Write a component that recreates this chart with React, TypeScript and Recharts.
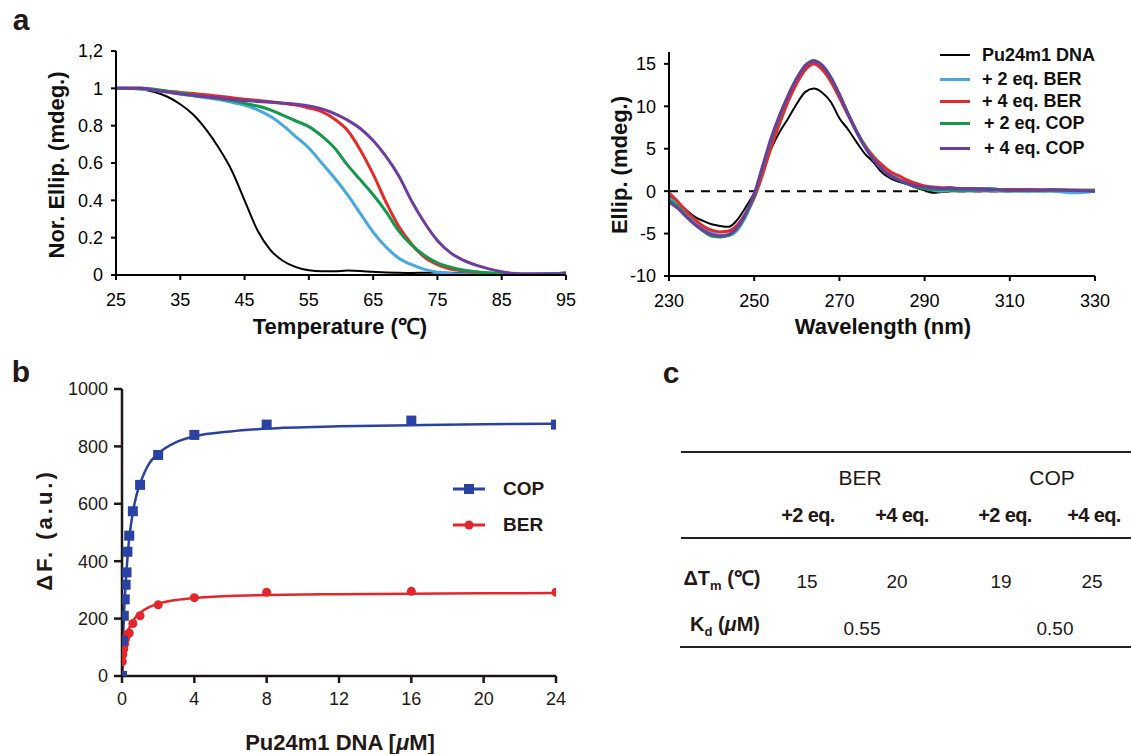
// App.tsx
// Three-panel figure: a) CD melting + CD spectra, b) fluorescence titration, c) summary table.
import React from "react";
import {
  LineChart, Line, ComposedChart, Scatter, XAxis, YAxis, ReferenceLine,
} from "recharts";

const FONT = "Arial, 'Liberation Sans', Helvetica, sans-serif";

// series colours
const C_BLACK = "#000000";
const C_BLUE = "#45a8de";
const C_RED = "#e32b2b";
const C_GREEN = "#14984a";
const C_PURPLE = "#6e3c9e";
const C_COP = "#2a43a3";
const C_BER = "#e3262b";
const C_AXIS_B = "#1e1614";

// ---- a (left): melting curves ----
const meltTemp = [25, 27, 29, 31, 33, 35, 37, 39, 41, 43, 45, 47, 49, 51, 53, 55, 57, 59, 61, 63, 65, 67, 69, 71, 73, 75, 77, 79, 81, 83, 85, 87, 89, 91, 93, 95];
const meltDNA = [1, 1, 0.995, 0.98, 0.955, 0.915, 0.86, 0.78, 0.68, 0.56, 0.4, 0.24, 0.135, 0.075, 0.042, 0.025, 0.02, 0.02, 0.024, 0.022, 0.017, 0.014, 0.012, 0.011, 0.012, 0.013, 0.012, 0.01, 0.009, 0.008, 0.007, 0.006, 0.006, 0.007, 0.009, 0.014];
const meltBer2 = [1, 1, 0.995, 0.99, 0.98, 0.97, 0.96, 0.95, 0.94, 0.925, 0.91, 0.885, 0.85, 0.8, 0.74, 0.68, 0.6, 0.52, 0.43, 0.33, 0.23, 0.15, 0.09, 0.055, 0.03, 0.015, 0.008, 0.005, 0.004, 0.003, 0.003, 0.003, 0.003, 0.004, 0.005, 0.006];
const meltBer4 = [1, 1, 1, 0.99, 0.985, 0.978, 0.972, 0.965, 0.958, 0.95, 0.942, 0.935, 0.928, 0.92, 0.91, 0.895, 0.875, 0.835, 0.775, 0.67, 0.54, 0.39, 0.26, 0.165, 0.095, 0.055, 0.032, 0.022, 0.015, 0.01, 0.007, 0.005, 0.004, 0.004, 0.005, 0.006];
const meltCop2 = [1, 1, 1, 0.995, 0.985, 0.975, 0.965, 0.955, 0.945, 0.935, 0.92, 0.905, 0.885, 0.855, 0.825, 0.795, 0.745, 0.68, 0.59, 0.51, 0.43, 0.34, 0.235, 0.16, 0.105, 0.065, 0.042, 0.027, 0.018, 0.012, 0.009, 0.007, 0.006, 0.006, 0.007, 0.008];
const meltCop4 = [1, 1, 1, 0.99, 0.98, 0.97, 0.962, 0.955, 0.948, 0.94, 0.935, 0.93, 0.925, 0.92, 0.915, 0.905, 0.89, 0.865, 0.83, 0.785, 0.72, 0.635, 0.53, 0.395, 0.28, 0.185, 0.12, 0.08, 0.053, 0.033, 0.018, 0.008, 0.005, 0.005, 0.006, 0.008];
const meltXTicks = [25, 35, 45, 55, 65, 75, 85, 95];
const meltYTicks = [0, 0.2, 0.4, 0.6, 0.8, 1, 1.2];

// ---- a (right): CD spectra ----
const cdWave = [230, 232, 234, 236, 238, 240, 242, 244, 246, 248, 250, 252, 254, 256, 258, 260, 262, 264, 266, 268, 270, 272, 274, 276, 278, 280, 282, 284, 286, 288, 290, 292, 294, 296, 298, 300, 305, 310, 315, 320, 325, 330];
const cdDNA = [-0.4, -1.3, -2.2, -3.0, -3.5, -3.9, -4.1, -4.2, -3.4, -1.9, -0.2, 2.2, 5.0, 7.0, 8.6, 10.3, 11.7, 12.1, 11.6, 10.5, 8.6, 7.3, 5.8, 4.4, 3.4, 2.2, 1.5, 1.1, 0.8, 0.4, 0.1, -0.2, -0.1, 0, 0, 0, 0, 0, 0.1, 0.1, 0.1, 0.1];
const cdBer2 = [-0.8, -1.5, -2.5, -3.5, -4.3, -4.9, -5.2, -5.2, -4.6, -3.0, -0.7, 2.6, 5.9, 8.6, 11.0, 13.0, 14.5, 15.2, 14.5, 13.1, 11.2, 9.1, 7.0, 5.2, 3.8, 2.7, 1.9, 1.4, 1.0, 0.6, 0.3, 0.1, 0, 0.1, 0.1, 0.1, 0.1, 0, 0, 0, -0.2, 0];
const cdBer4 = [-0.2, -1.2, -2.3, -3.3, -4.1, -4.6, -4.8, -4.7, -4.0, -2.6, -0.8, 2.0, 5.2, 8.0, 10.6, 12.7, 14.3, 15.0, 14.3, 12.9, 11.0, 9.0, 7.1, 5.4, 4.1, 3.1, 2.3, 1.8, 1.3, 0.9, 0.6, 0.5, 0.4, 0.4, 0.3, 0.3, 0.2, 0.2, 0.2, 0.1, 0.1, 0.1];
const cdCop2 = [-1.0, -1.8, -2.9, -3.9, -4.7, -5.3, -5.4, -5.2, -4.4, -2.8, -0.5, 2.8, 6.1, 8.9, 11.3, 13.3, 14.8, 15.4, 14.8, 13.4, 11.4, 9.2, 7.1, 5.3, 3.8, 2.6, 1.8, 1.3, 0.9, 0.5, 0.3, 0.2, 0.2, 0.2, 0.2, 0.2, 0.3, 0.1, 0.1, 0.1, 0.1, 0.1];
const cdCop4 = [-1.3, -2.0, -3.0, -3.9, -4.6, -5.1, -5.3, -5.1, -4.3, -2.6, -0.3, 3.0, 6.3, 9.0, 11.3, 13.3, 14.8, 15.3, 14.8, 13.4, 11.4, 9.1, 7.0, 5.2, 3.7, 2.6, 1.8, 1.3, 0.9, 0.6, 0.5, 0.4, 0.3, 0.4, 0.3, 0.3, 0.2, 0.1, 0.1, 0.2, 0.1, 0];
const cdXTicks = [230, 250, 270, 290, 310, 330];
const cdYTicks = [-10, -5, 0, 5, 10, 15];
const cdLabels = ["Pu24m1 DNA", "+ 2 eq. BER", "+ 4 eq. BER", "+ 2 eq. COP", "+ 4 eq. COP"];

// ---- b: titration ----
const copConc = [0, 0.05, 0.1, 0.15, 0.2, 0.25, 0.3, 0.4, 0.6, 1, 2, 4, 8, 16, 24];
const copDF = [0, 123, 210, 267, 318, 361, 433, 489, 574, 666, 770, 840, 876, 890, 876];
const berConc = [0.02, 0.05, 0.1, 0.15, 0.2, 0.3, 0.4, 0.6, 1, 2, 4, 8, 16, 24];
const berDF = [50, 75, 95, 112, 130, 145, 150, 183, 210, 248, 273, 292, 295, 292];
const copFitX = [0, 0.05, 0.1, 0.2, 0.3, 0.4, 0.6, 0.8, 1, 1.5, 2, 3, 4, 6, 8, 12, 16, 20, 24];
const copFitY = [0, 110, 200, 320, 410, 480, 570, 630, 670, 740, 775, 815, 835, 852, 862, 870, 874, 877, 879];
const berFitX = [0, 0.05, 0.1, 0.2, 0.3, 0.5, 0.75, 1, 1.5, 2, 3, 4, 6, 8, 12, 16, 20, 24];
const berFitY = [0, 50, 80, 120, 150, 180, 205, 220, 240, 252, 265, 272, 279, 282, 285, 287, 288, 289];
const bXTicks = [0, 4, 8, 12, 16, 20, 24];
const bYTicks = [0, 200, 400, 600, 800, 1000];

// ---- c: table ----
const tableGroups = ["BER", "COP"];
const tableEq = ["+2 eq.", "+4 eq.", "+2 eq.", "+4 eq."];
const deltaTm = [15, 20, 19, 25];
const kdValues = ["0.55", "0.50"];

const pts = (xs: number[], ys: number[]) => xs.map((x, i) => ({ x, y: ys[i] }));

const tickStyle = { fill: "#000", fontSize: 18, fontFamily: FONT };
const tickStyleB = { fill: "#231815", fontSize: 18, fontFamily: FONT };
const axisLineStyle = { stroke: "#000", strokeWidth: 2 };
const axisLineStyleB = { stroke: C_AXIS_B, strokeWidth: 2.5 };

function Txt({ x, y, size, weight = 400, rotate = false, spacing = 0, color = "#111", children }: any) {
  return (
    <div
      style={{
        position: "absolute", left: x, top: y, whiteSpace: "nowrap",
        transform: `translate(-50%, -50%)${rotate ? " rotate(-90deg)" : ""}`,
        fontSize: size, fontWeight: weight, letterSpacing: spacing, lineHeight: 1, color,
      }}
    >
      {children}
    </div>
  );
}

function HLine({ y, x1, x2 }: { y: number; x1: number; x2: number }) {
  return <div style={{ position: "absolute", left: x1, top: y - 1, width: x2 - x1, height: 2, background: "#222" }} />;
}

const meltFmt = (v: number) => (v === 1.2 ? "1,2" : String(v));

export default function App() {
  const meltSeries = [
    { d: meltDNA, c: C_BLACK, w: 2 },
    { d: meltBer2, c: C_BLUE, w: 3 },
    { d: meltBer4, c: C_RED, w: 3 },
    { d: meltCop2, c: C_GREEN, w: 3 },
    { d: meltCop4, c: C_PURPLE, w: 3 },
  ];
  const cdSeries = [
    { d: cdDNA, c: C_BLACK, w: 2 },
    { d: cdBer2, c: C_BLUE, w: 3 },
    { d: cdBer4, c: C_RED, w: 3 },
    { d: cdCop2, c: C_GREEN, w: 3 },
    { d: cdCop4, c: C_PURPLE, w: 3 },
  ];

  return (
    <div style={{ position: "absolute", left: 0, top: 0, width: 1131, height: 754, background: "#fff", fontFamily: FONT, overflow: "hidden" }}>
      {/* panel letters */}
      <Txt x={21} y={20} size={30} weight={700} color="#231815">a</Txt>
      <Txt x={21} y={372} size={30} weight={700} color="#231815">b</Txt>
      <Txt x={671} y={373} size={30} weight={700} color="#231815">c</Txt>

      {/* a left: melting */}
      <div style={{ position: "absolute", left: 0, top: 0 }}>
        <LineChart width={600} height={350} margin={{ top: 51, right: 34, left: 56, bottom: 0 }}>
          <XAxis type="number" dataKey="x" domain={[25, 95]} ticks={meltXTicks} tick={tickStyle}
            axisLine={axisLineStyle} tickLine={axisLineStyle} tickSize={5} tickMargin={13} height={75} allowDataOverflow />
          <YAxis type="number" domain={[0, 1.2]} ticks={meltYTicks} tickFormatter={meltFmt} tick={tickStyle}
            axisLine={axisLineStyle} tickLine={axisLineStyle} tickSize={5} tickMargin={8} width={60} allowDataOverflow />
          {meltSeries.map((s, i) => (
            <Line key={i} data={pts(meltTemp, s.d)} dataKey="y" type="monotone" stroke={s.c}
              strokeWidth={s.w} dot={false} isAnimationActive={false} />
          ))}
        </LineChart>
      </div>
      <Txt x={57} y={165} size={22} weight={700} rotate>Nor. Ellip. (mdeg.)</Txt>
      <Txt x={340} y={327} size={22} weight={700}>Temperature (℃)</Txt>

      {/* a right: CD spectra */}
      <div style={{ position: "absolute", left: 580, top: 0 }}>
        <LineChart width={551} height={350} margin={{ top: 52, right: 36, left: 29, bottom: 0 }}>
          <XAxis type="number" dataKey="x" domain={[230, 330]} ticks={cdXTicks} tick={tickStyle}
            axisLine={axisLineStyle} tickLine={axisLineStyle} tickSize={5} tickMargin={13} height={74} allowDataOverflow />
          <YAxis type="number" domain={[-10, 16.4]} ticks={cdYTicks} tick={tickStyle}
            axisLine={axisLineStyle} tickLine={axisLineStyle} tickSize={5} tickMargin={8} width={60} allowDataOverflow />
          <ReferenceLine y={0} stroke="#000" strokeWidth={2} strokeDasharray="9 7" />
          {cdSeries.map((s, i) => (
            <Line key={i} data={pts(cdWave, s.d)} dataKey="y" type="monotone" stroke={s.c}
              strokeWidth={s.w} dot={false} isAnimationActive={false} />
          ))}
        </LineChart>
      </div>
      <Txt x={620} y={165} size={22} weight={700} rotate>Ellip. (mdeg.)</Txt>
      <Txt x={883} y={327} size={22} weight={700}>Wavelength (nm)</Txt>
      {cdLabels.map((lab, i) => (
        <div key={lab} style={{ position: "absolute", left: 940, top: [55, 79, 101, 123, 148][i] - 10, height: 20, display: "flex", alignItems: "center" }}>
          <div style={{ width: 30, height: i === 0 ? 2 : 3, background: cdSeries[i].c }} />
          <div style={{ marginLeft: i < 3 ? 12 : 14, fontSize: 18, fontWeight: 700, color: "#111", whiteSpace: "nowrap" }}>{lab}</div>
        </div>
      ))}

      {/* b: titration */}
      <div style={{ position: "absolute", left: 0, top: 350 }}>
        <ComposedChart width={600} height={404} margin={{ top: 39, right: 44, left: 52, bottom: 0 }}>
          <XAxis type="number" dataKey="x" domain={[0, 24]} ticks={bXTicks} tick={tickStyleB}
            axisLine={axisLineStyleB} tickLine={axisLineStyleB} tickSize={7} tickMargin={9} height={78} allowDataOverflow />
          <YAxis type="number" domain={[0, 1000]} ticks={bYTicks} tick={tickStyleB}
            axisLine={axisLineStyleB} tickLine={axisLineStyleB} tickSize={8} tickMargin={6} width={70} allowDataOverflow />
          <Line data={pts(berFitX, berFitY)} dataKey="y" type="monotone" stroke={C_BER} strokeWidth={2.5}
            dot={false} isAnimationActive={false} />
          <Line data={pts(copFitX, copFitY)} dataKey="y" type="monotone" stroke={C_COP} strokeWidth={2.5}
            dot={false} isAnimationActive={false} />
          <Scatter data={pts(berConc, berDF)} dataKey="y" fill={C_BER} isAnimationActive={false}
            shape={(p: any) => <circle cx={p.cx} cy={p.cy} r={4.5} fill={C_BER} />} />
          <Scatter data={pts(copConc, copDF)} dataKey="y" fill={C_COP} isAnimationActive={false}
            shape={(p: any) => <rect x={p.cx - 5} y={p.cy - 5} width={10} height={10} fill={C_COP} />} />
        </ComposedChart>
      </div>
      <Txt x={45} y={530} size={22} weight={700} rotate spacing={3} color="#231815">ΔF. (a.u.)</Txt>
      <Txt x={340} y={743} size={22} weight={700} color="#231815">Pu24m1 DNA [<i>μ</i>M]</Txt>
      {[{ lab: "COP", c: C_COP, sq: true, y: 489 }, { lab: "BER", c: C_BER, sq: false, y: 525 }].map((e) => (
        <div key={e.lab} style={{ position: "absolute", left: 453, top: e.y - 12, height: 24, display: "flex", alignItems: "center" }}>
          <svg width={32} height={14}>
            <line x1={0} y1={7} x2={32} y2={7} stroke={e.c} strokeWidth={3} />
            {e.sq ? <rect x={11} y={2} width={10} height={10} fill={e.c} /> : <circle cx={16} cy={7} r={4.5} fill={e.c} />}
          </svg>
          <div style={{ marginLeft: 18, fontSize: 19, fontWeight: 700, color: "#231815" }}>{e.lab}</div>
        </div>
      ))}

      {/* c: table */}
      <HLine y={452} x1={681} x2={1131} />
      <HLine y={538} x1={681} x2={1131} />
      <HLine y={647} x1={680} x2={1131} />
      <Txt x={860} y={477} size={21} color="#231815">{tableGroups[0]}</Txt>
      <Txt x={1052} y={477} size={21} color="#231815">{tableGroups[1]}</Txt>
      {tableEq.map((t, i) => (
        <Txt key={i} x={[808, 902, 1005, 1094][i]} y={515} size={20} weight={700} spacing={-0.6} color="#231815">{t}</Txt>
      ))}
      <Txt x={722} y={580} size={20} weight={700} color="#231815">ΔT<sub style={{ fontSize: 13 }}>m</sub> (℃)</Txt>
      {deltaTm.map((v, i) => (
        <Txt key={i} x={[807, 897, 1001, 1092][i]} y={581} size={19} color="#231815">{v}</Txt>
      ))}
      <Txt x={725} y={626} size={20} weight={700} color="#231815">K<sub style={{ fontSize: 13 }}>d</sub> (<i>μ</i>M)</Txt>
      <Txt x={862} y={628} size={19} color="#231815">{kdValues[0]}</Txt>
      <Txt x={1055} y={628} size={19} color="#231815">{kdValues[1]}</Txt>
    </div>
  );
}
